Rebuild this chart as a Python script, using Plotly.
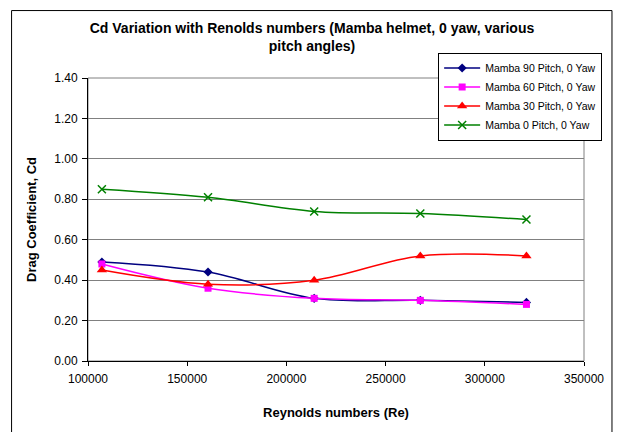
import plotly.graph_objects as go

# Reynolds numbers tested and drag coefficients per pitch angle
reynolds = [107000, 160500, 214000, 267500, 321000]
cd_pitch90 = [0.49, 0.44, 0.31, 0.30, 0.29]
cd_pitch60 = [0.48, 0.36, 0.31, 0.30, 0.28]
cd_pitch30 = [0.45, 0.38, 0.40, 0.52, 0.52]
cd_pitch0 = [0.85, 0.81, 0.74, 0.73, 0.70]

series_names = [
    "Mamba 90 Pitch, 0 Yaw",
    "Mamba 60 Pitch, 0 Yaw",
    "Mamba 30 Pitch, 0 Yaw",
    "Mamba 0 Pitch, 0 Yaw",
]
y_ticks = [0.0, 0.2, 0.4, 0.6, 0.8, 1.0, 1.2, 1.4]
x_ticks = [100000, 150000, 200000, 250000, 300000, 350000]

styles = [
    dict(color="#000080", symbol="diamond", size=7, mline=0),
    dict(color="#FF00FF", symbol="square", size=7, mline=0),
    dict(color="#FF0000", symbol="triangle-up", size=9, mline=0),
    dict(color="#008000", symbol="x-thin-open", size=8, mline=1.5),
]

fig = go.Figure()
for name, values, st in zip(series_names, [cd_pitch90, cd_pitch60, cd_pitch30, cd_pitch0], styles):
    fig.add_trace(go.Scatter(
        x=reynolds, y=values, name=name, mode="lines+markers",
        line=dict(color=st["color"], width=1.5, shape="spline", smoothing=1),
        marker=dict(symbol=st["symbol"], size=st["size"], color=st["color"],
                    line=dict(color=st["color"], width=st["mline"])),
    ))

# plot-area geometry in pixels
W, H = 621, 432
L, R, T, B = 87.5, 584, 77.5, 360.7
pw, ph = R - L, B - T

def px_x(x):
    return (x - L) / pw

def px_y(y):
    return (B - y) / ph

font = "Liberation Sans, Arial, sans-serif"

fig.update_layout(
    width=W, height=H,
    margin=dict(l=L, r=W - R, t=T, b=H - B, pad=0),
    paper_bgcolor="white", plot_bgcolor="white",
    font=dict(family=font, size=12, color="black"),
    showlegend=True,
    title=dict(
        text="<b>Cd Variation with Renolds numbers (Mamba helmet, 0 yaw, various<br>pitch angles)</b>",
        x=312 / W, xanchor="center", y=1 - 33 / H, yanchor="top",
        font=dict(family=font, size=14, color="black"),
    ),
    xaxis=dict(
        range=[100000, 350000], tickvals=x_ticks, ticktext=[str(v) for v in x_ticks],
        showgrid=False, zeroline=False,
        showline=True, linecolor="black", linewidth=1,
        ticks="outside", ticklen=4, tickcolor="black",
        tickfont=dict(size=12), ticklabelstandoff=3,
        title=dict(text="<b>Reynolds numbers (Re)</b>", font=dict(size=13), standoff=22),
    ),
    yaxis=dict(
        range=[0, 1.4], tickvals=y_ticks, ticktext=[f"{v:.2f}" for v in y_ticks],
        showgrid=True, gridcolor="#808080", gridwidth=1, zeroline=False,
        showline=True, linecolor="black", linewidth=1,
        ticks="outside", ticklen=5, tickcolor="black",
        tickfont=dict(size=12), ticklabelstandoff=2,
        title=dict(text="<b>Drag Coefficient, Cd</b>", font=dict(size=13), standoff=14),
    ),
    legend=dict(
        x=px_x(438), y=px_y(52), xanchor="left", yanchor="top",
        bgcolor="white", bordercolor="black", borderwidth=1,
        font=dict(family=font, size=10.5, color="black"),
        tracegroupgap=2, itemwidth=36,
    ),
    shapes=[
        # plot-area border
        dict(type="rect", xref="paper", yref="paper", x0=0, x1=1, y0=0, y1=1,
             line=dict(color="#808080", width=1), layer="below"),
        # chart-area frame
        dict(type="rect", xref="paper", yref="paper",
             x0=px_x(11), x1=px_x(612), y0=px_y(445), y1=px_y(10),
             line=dict(color="black", width=1), layer="below"),
    ],
)

fig.write_html("out.html")
